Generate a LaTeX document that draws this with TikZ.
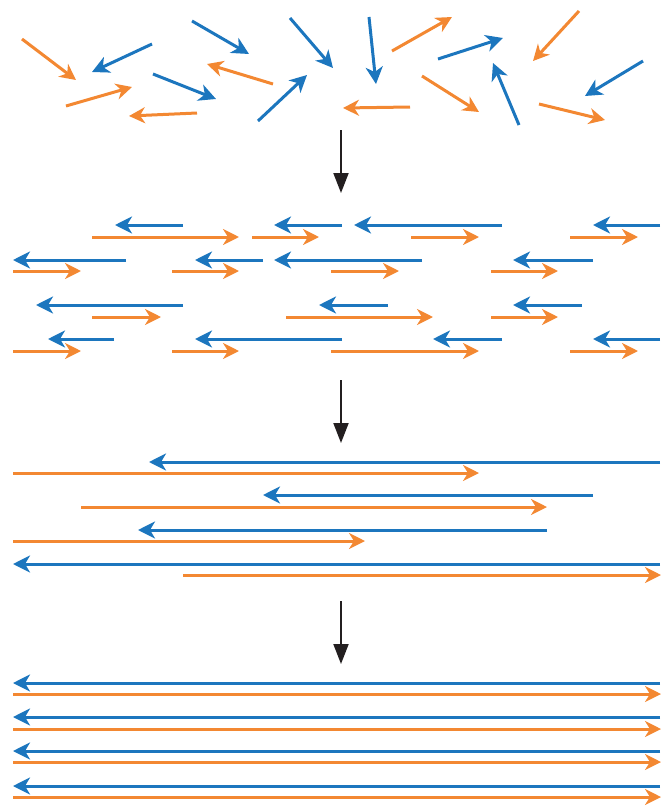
\documentclass[tikz,border=0pt]{standalone}
\usetikzlibrary{arrows.meta}
\definecolor{ArrowBlue}{RGB}{28, 118, 190}
\definecolor{ArrowOrange}{RGB}{243, 136, 50}
\definecolor{StepDark}{RGB}{35, 31, 32}

\tikzset{
  bluearrow/.style={ArrowBlue, line width=3pt, -{Stealth[length=17pt, width=17pt, inset=5pt]}},
  orangearrow/.style={ArrowOrange, line width=3pt, -{Stealth[length=16pt, width=16pt, inset=5pt]}},
  downarrow/.style={StepDark, line width=2pt, -{Triangle[length=20pt, width=15pt]}}
}

\begin{document}
\begin{tikzpicture}[x=1pt, y=-1pt]
  \useasboundingbox (0,0) rectangle (663,809);

  % random orientation
  \foreach \xa/\ya/\xb/\yb in {152/44/92/72, 192/21/249/54, 290/18/333/68, 153/74/216/99,
      258/121/307/75, 369/17/376/84, 438/59/503/38, 643/61/585/96, 519/125/493/63}
    \draw[bluearrow] (\xa,\ya) -- (\xb,\yb);
  \foreach \xa/\ya/\xb/\yb in {22/39/76/80, 273/84/207/64, 66/106/132/87, 197/113/129/116,
      392/51/452/17, 579/11/533/61, 410/107/343/108, 422/76/479/112, 539/104/605/120}
    \draw[orangearrow] (\xa,\ya) -- (\xb,\yb);

  \coordinate (s1a) at (341,130);
  \coordinate (s1b) at (341,193);
  \draw[downarrow] (s1a) -- (s1b);

  % short aligned pieces
  \foreach \y/\h/\t in {225/115/183, 225/274/342, 225/354/502, 225/593/660,
      260/13/126, 260/195/263, 260/274/422, 260/513/593,
      305/36/183, 305/319/388, 305/513/582,
      339/48/114, 339/195/342, 339/433/502, 339/593/660}
    \draw[bluearrow] (\t,\y) -- (\h,\y);
  \foreach \y/\t/\h in {237/92/239, 237/252/319, 237/411/479, 237/570/638,
      271/13/81, 271/172/239, 271/331/399, 271/491/558,
      317/92/161, 317/286/433, 317/491/558,
      351/13/81, 351/172/239, 351/331/479, 351/570/638}
    \draw[orangearrow] (\t,\y) -- (\h,\y);

  \coordinate (s2a) at (341,380);
  \coordinate (s2b) at (341,443);
  \draw[downarrow] (s2a) -- (s2b);

  % longer pieces
  \foreach \y/\h/\t in {462/149/660, 495/263/593, 530/138/547, 564/13/660}
    \draw[bluearrow] (\t,\y) -- (\h,\y);
  \foreach \y/\t/\h in {473/13/479, 507/81/547, 541/13/365, 575/183/661}
    \draw[orangearrow] (\t,\y) -- (\h,\y);

  \coordinate (s3a) at (341,601);
  \coordinate (s3b) at (341,664);
  \draw[downarrow] (s3a) -- (s3b);

  % full length
  \foreach \y in {683, 717, 751, 786}
    \draw[bluearrow] (660,\y) -- (13,\y);
  \foreach \y in {694, 729, 762, 797}
    \draw[orangearrow] (13,\y) -- (661,\y);
\end{tikzpicture}
\end{document}
